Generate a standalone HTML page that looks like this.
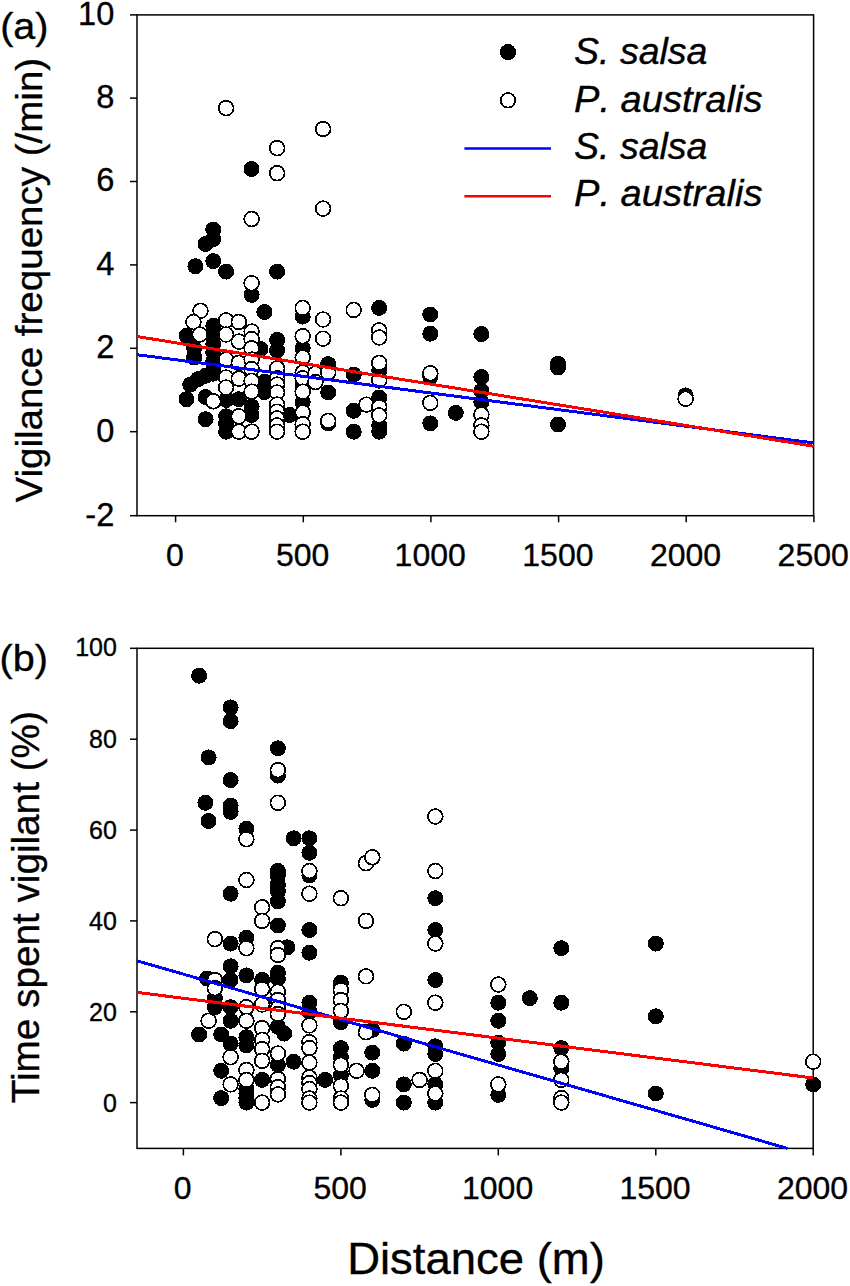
<!DOCTYPE html>
<html><head><meta charset="utf-8"><title>Figure</title>
<style>
html,body{margin:0;padding:0;background:#fff;}
svg{display:block;}
text{font-family:"Liberation Sans",sans-serif;fill:#000;stroke:#000;stroke-width:0.35px;}
.k{fill:#000;shape-rendering:crispEdges;}
.w{fill:#fff;stroke:#000;stroke-width:1.7;shape-rendering:crispEdges;}
.ax{stroke:#000;stroke-width:1.5;fill:none;}
</style></head><body>
<svg width="850" height="1286" viewBox="0 0 850 1286">
<rect x="0" y="0" width="850" height="1286" fill="#fff"/>
<g id="panelA">
<rect class="ax" x="137.0" y="14.9" width="676.6" height="500.80000000000007"/>
<circle class="k" cx="186.5" cy="335.8" r="8.0"/>
<circle class="k" cx="186.5" cy="399.2" r="8.0"/>
<circle class="k" cx="190.3" cy="384.6" r="8.0"/>
<circle class="k" cx="194.1" cy="348.3" r="8.0"/>
<circle class="k" cx="194.1" cy="357.5" r="8.0"/>
<circle class="k" cx="198.0" cy="379.2" r="8.0"/>
<circle class="k" cx="195.4" cy="266.2" r="8.0"/>
<circle class="k" cx="205.6" cy="244.0" r="8.0"/>
<circle class="k" cx="205.6" cy="375.8" r="8.0"/>
<circle class="k" cx="205.6" cy="397.1" r="8.0"/>
<circle class="k" cx="205.6" cy="419.2" r="8.0"/>
<circle class="k" cx="213.3" cy="229.5" r="8.0"/>
<circle class="k" cx="213.3" cy="239.0" r="8.0"/>
<circle class="k" cx="213.3" cy="261.1" r="8.0"/>
<circle class="k" cx="213.3" cy="325.8" r="8.0"/>
<circle class="k" cx="213.3" cy="335.8" r="8.0"/>
<circle class="k" cx="213.3" cy="344.1" r="8.0"/>
<circle class="k" cx="213.3" cy="352.5" r="8.0"/>
<circle class="k" cx="213.3" cy="360.8" r="8.0"/>
<circle class="k" cx="213.3" cy="369.1" r="8.0"/>
<circle class="k" cx="213.3" cy="373.7" r="8.0"/>
<circle class="k" cx="226.1" cy="271.6" r="8.0"/>
<circle class="k" cx="226.1" cy="400.0" r="8.0"/>
<circle class="k" cx="226.1" cy="416.3" r="8.0"/>
<circle class="k" cx="226.1" cy="423.4" r="8.0"/>
<circle class="k" cx="226.1" cy="431.7" r="8.0"/>
<circle class="k" cx="238.8" cy="399.2" r="8.0"/>
<circle class="k" cx="251.6" cy="169.0" r="8.0"/>
<circle class="k" cx="251.6" cy="294.9" r="8.0"/>
<circle class="k" cx="251.6" cy="406.7" r="8.0"/>
<circle class="k" cx="251.6" cy="415.0" r="8.0"/>
<circle class="k" cx="260.5" cy="349.1" r="8.0"/>
<circle class="k" cx="264.4" cy="312.0" r="8.0"/>
<circle class="k" cx="264.4" cy="381.7" r="8.0"/>
<circle class="k" cx="264.4" cy="392.1" r="8.0"/>
<circle class="k" cx="277.1" cy="271.6" r="8.0"/>
<circle class="k" cx="277.1" cy="340.0" r="8.0"/>
<circle class="k" cx="277.1" cy="350.4" r="8.0"/>
<circle class="k" cx="289.9" cy="415.0" r="8.0"/>
<circle class="k" cx="302.7" cy="316.6" r="8.0"/>
<circle class="k" cx="302.7" cy="348.3" r="8.0"/>
<circle class="k" cx="302.7" cy="384.6" r="8.0"/>
<circle class="k" cx="302.7" cy="402.1" r="8.0"/>
<circle class="k" cx="328.2" cy="364.1" r="8.0"/>
<circle class="k" cx="328.2" cy="392.5" r="8.0"/>
<circle class="k" cx="328.2" cy="423.4" r="8.0"/>
<circle class="k" cx="353.7" cy="374.6" r="8.0"/>
<circle class="k" cx="353.7" cy="410.8" r="8.0"/>
<circle class="k" cx="353.7" cy="431.7" r="8.0"/>
<circle class="k" cx="379.2" cy="307.9" r="8.0"/>
<circle class="k" cx="379.2" cy="370.4" r="8.0"/>
<circle class="k" cx="379.2" cy="397.5" r="8.0"/>
<circle class="k" cx="379.2" cy="425.4" r="8.0"/>
<circle class="k" cx="379.2" cy="431.7" r="8.0"/>
<circle class="k" cx="430.3" cy="314.5" r="8.0"/>
<circle class="k" cx="430.3" cy="333.7" r="8.0"/>
<circle class="k" cx="430.3" cy="376.7" r="8.0"/>
<circle class="k" cx="430.3" cy="423.4" r="8.0"/>
<circle class="k" cx="455.8" cy="412.9" r="8.0"/>
<circle class="k" cx="481.4" cy="334.1" r="8.0"/>
<circle class="k" cx="481.4" cy="377.1" r="8.0"/>
<circle class="k" cx="481.4" cy="390.8" r="8.0"/>
<circle class="k" cx="481.4" cy="402.1" r="8.0"/>
<circle class="k" cx="558.0" cy="363.7" r="8.0"/>
<circle class="k" cx="558.0" cy="367.5" r="8.0"/>
<circle class="k" cx="558.0" cy="424.6" r="8.0"/>
<circle class="k" cx="685.6" cy="395.4" r="8.0"/>
<circle class="w" cx="200.5" cy="310.8" r="7.4"/>
<circle class="w" cx="193.4" cy="322.0" r="7.4"/>
<circle class="w" cx="199.8" cy="334.5" r="7.4"/>
<circle class="w" cx="213.3" cy="401.3" r="7.4"/>
<circle class="w" cx="226.1" cy="108.1" r="7.4"/>
<circle class="w" cx="226.1" cy="320.4" r="7.4"/>
<circle class="w" cx="226.1" cy="334.5" r="7.4"/>
<circle class="w" cx="226.1" cy="359.6" r="7.4"/>
<circle class="w" cx="226.1" cy="377.5" r="7.4"/>
<circle class="w" cx="226.1" cy="387.5" r="7.4"/>
<circle class="w" cx="238.8" cy="322.0" r="7.4"/>
<circle class="w" cx="238.8" cy="341.6" r="7.4"/>
<circle class="w" cx="238.8" cy="362.9" r="7.4"/>
<circle class="w" cx="238.8" cy="378.7" r="7.4"/>
<circle class="w" cx="238.8" cy="416.3" r="7.4"/>
<circle class="w" cx="238.8" cy="431.7" r="7.4"/>
<circle class="w" cx="251.6" cy="219.0" r="7.4"/>
<circle class="w" cx="251.6" cy="283.2" r="7.4"/>
<circle class="w" cx="251.6" cy="331.6" r="7.4"/>
<circle class="w" cx="251.6" cy="339.1" r="7.4"/>
<circle class="w" cx="251.6" cy="348.3" r="7.4"/>
<circle class="w" cx="251.6" cy="359.6" r="7.4"/>
<circle class="w" cx="251.6" cy="369.1" r="7.4"/>
<circle class="w" cx="251.6" cy="380.8" r="7.4"/>
<circle class="w" cx="251.6" cy="391.7" r="7.4"/>
<circle class="w" cx="251.6" cy="431.7" r="7.4"/>
<circle class="w" cx="277.1" cy="148.1" r="7.4"/>
<circle class="w" cx="277.1" cy="173.2" r="7.4"/>
<circle class="w" cx="277.1" cy="368.3" r="7.4"/>
<circle class="w" cx="277.1" cy="378.3" r="7.4"/>
<circle class="w" cx="277.1" cy="384.6" r="7.4"/>
<circle class="w" cx="277.1" cy="392.5" r="7.4"/>
<circle class="w" cx="277.1" cy="404.6" r="7.4"/>
<circle class="w" cx="277.1" cy="411.7" r="7.4"/>
<circle class="w" cx="277.1" cy="418.4" r="7.4"/>
<circle class="w" cx="277.1" cy="425.4" r="7.4"/>
<circle class="w" cx="277.1" cy="431.7" r="7.4"/>
<circle class="w" cx="302.7" cy="307.9" r="7.4"/>
<circle class="w" cx="302.7" cy="336.2" r="7.4"/>
<circle class="w" cx="302.7" cy="357.5" r="7.4"/>
<circle class="w" cx="302.7" cy="372.5" r="7.4"/>
<circle class="w" cx="302.7" cy="378.3" r="7.4"/>
<circle class="w" cx="302.7" cy="391.7" r="7.4"/>
<circle class="w" cx="302.7" cy="412.5" r="7.4"/>
<circle class="w" cx="302.7" cy="424.2" r="7.4"/>
<circle class="w" cx="302.7" cy="431.7" r="7.4"/>
<circle class="w" cx="315.4" cy="373.7" r="7.4"/>
<circle class="w" cx="315.4" cy="382.1" r="7.4"/>
<circle class="w" cx="323.1" cy="129.0" r="7.4"/>
<circle class="w" cx="323.1" cy="208.6" r="7.4"/>
<circle class="w" cx="323.1" cy="319.5" r="7.4"/>
<circle class="w" cx="323.1" cy="338.7" r="7.4"/>
<circle class="w" cx="328.2" cy="372.5" r="7.4"/>
<circle class="w" cx="328.2" cy="420.9" r="7.4"/>
<circle class="w" cx="353.7" cy="309.9" r="7.4"/>
<circle class="w" cx="366.5" cy="404.6" r="7.4"/>
<circle class="w" cx="379.2" cy="330.4" r="7.4"/>
<circle class="w" cx="379.2" cy="337.5" r="7.4"/>
<circle class="w" cx="379.2" cy="362.9" r="7.4"/>
<circle class="w" cx="379.2" cy="380.4" r="7.4"/>
<circle class="w" cx="379.2" cy="407.1" r="7.4"/>
<circle class="w" cx="379.2" cy="415.4" r="7.4"/>
<circle class="w" cx="430.3" cy="373.3" r="7.4"/>
<circle class="w" cx="430.3" cy="402.9" r="7.4"/>
<circle class="w" cx="481.4" cy="414.6" r="7.4"/>
<circle class="w" cx="481.4" cy="425.4" r="7.4"/>
<circle class="w" cx="481.4" cy="431.7" r="7.4"/>
<circle class="w" cx="685.6" cy="398.8" r="7.4"/>
<line x1="137" y1="354.7" x2="813.6" y2="442.9" stroke="#0000ff" stroke-width="3" shape-rendering="crispEdges"/>
<line x1="137" y1="336.5" x2="813.6" y2="446.2" stroke="#ff0000" stroke-width="3" shape-rendering="crispEdges"/>
<line class="ax" x1="130" y1="14.9" x2="137" y2="14.9"/><text x="114.3" y="24.8" font-size="32.6" text-anchor="end">10</text>
<line class="ax" x1="130" y1="98.1" x2="137" y2="98.1"/><text x="114.3" y="108.0" font-size="32.6" text-anchor="end">8</text>
<line class="ax" x1="130" y1="181.5" x2="137" y2="181.5"/><text x="114.3" y="191.4" font-size="32.6" text-anchor="end">6</text>
<line class="ax" x1="130" y1="264.9" x2="137" y2="264.9"/><text x="114.3" y="274.8" font-size="32.6" text-anchor="end">4</text>
<line class="ax" x1="130" y1="348.3" x2="137" y2="348.3"/><text x="114.3" y="358.2" font-size="32.6" text-anchor="end">2</text>
<line class="ax" x1="130" y1="431.7" x2="137" y2="431.7"/><text x="114.3" y="441.6" font-size="32.6" text-anchor="end">0</text>
<line class="ax" x1="130" y1="515.7" x2="137" y2="515.7"/><text x="114.3" y="525.6" font-size="32.6" text-anchor="end">-2</text>
<line class="ax" x1="175.6" y1="515.7" x2="175.6" y2="522.3"/><text x="174.9" y="565.5" font-size="32" text-anchor="middle">0</text>
<line class="ax" x1="303.3" y1="515.7" x2="303.3" y2="522.3"/><text x="302.6" y="565.5" font-size="32" text-anchor="middle">500</text>
<line class="ax" x1="430.9" y1="515.7" x2="430.9" y2="522.3"/><text x="430.2" y="565.5" font-size="32" text-anchor="middle">1000</text>
<line class="ax" x1="558.6" y1="515.7" x2="558.6" y2="522.3"/><text x="557.9" y="565.5" font-size="32" text-anchor="middle">1500</text>
<line class="ax" x1="686.2" y1="515.7" x2="686.2" y2="522.3"/><text x="685.5" y="565.5" font-size="32" text-anchor="middle">2000</text>
<line class="ax" x1="813.9" y1="515.7" x2="813.9" y2="522.3"/><text x="813.2" y="565.5" font-size="32" text-anchor="middle">2500</text>
</g>
<g id="legend">
<circle class="k" cx="508" cy="52.1" r="8.1"/>
<circle class="w" cx="508" cy="100.3" r="7.3"/>
<line x1="464.4" y1="148.5" x2="551" y2="148.5" stroke="#0000ff" stroke-width="2.6"/>
<line x1="464.4" y1="196.2" x2="551" y2="196.2" stroke="#ff0000" stroke-width="2.6"/>
<text x="574" y="64.4" font-size="37" font-style="italic" style="font-kerning:none" textLength="133.5" lengthAdjust="spacingAndGlyphs">S. salsa</text>
<text x="574" y="111.6" font-size="37" font-style="italic" style="font-kerning:none" textLength="188.5" lengthAdjust="spacingAndGlyphs">P. australis</text>
<text x="574" y="158.8" font-size="37" font-style="italic" style="font-kerning:none" textLength="133.5" lengthAdjust="spacingAndGlyphs">S. salsa</text>
<text x="574" y="206.0" font-size="37" font-style="italic" style="font-kerning:none" textLength="188.5" lengthAdjust="spacingAndGlyphs">P. australis</text>
</g>
<text x="0.2" y="38.6" font-size="37.2" textLength="48.3" lengthAdjust="spacingAndGlyphs">(a)</text>
<text x="-0.4" y="671.4" font-size="37.4" textLength="48.4" lengthAdjust="spacingAndGlyphs">(b)</text>
<text transform="translate(41.9,502.6) rotate(-90)" font-size="36.7" textLength="444.8" lengthAdjust="spacingAndGlyphs">Vigilance frequency (/min)</text>
<text transform="translate(38.5,1103.2) rotate(-90)" font-size="38.6" textLength="392" lengthAdjust="spacingAndGlyphs">Time spent vigilant (%)</text>
<g id="panelB">
<rect class="ax" x="137.0" y="648.3" width="676.2" height="500.10000000000014"/>
<circle class="k" cx="199.1" cy="675.7" r="8.0"/>
<circle class="k" cx="199.1" cy="1034.5" r="8.0"/>
<circle class="k" cx="205.4" cy="802.8" r="8.0"/>
<circle class="k" cx="208.6" cy="757.4" r="8.0"/>
<circle class="k" cx="208.6" cy="821.0" r="8.0"/>
<circle class="k" cx="207.0" cy="978.6" r="8.0"/>
<circle class="k" cx="214.9" cy="998.1" r="8.0"/>
<circle class="k" cx="214.9" cy="1007.2" r="8.0"/>
<circle class="k" cx="221.2" cy="1034.5" r="8.0"/>
<circle class="k" cx="221.2" cy="1070.8" r="8.0"/>
<circle class="k" cx="221.2" cy="1098.1" r="8.0"/>
<circle class="k" cx="230.6" cy="707.4" r="8.0"/>
<circle class="k" cx="230.6" cy="721.1" r="8.0"/>
<circle class="k" cx="230.6" cy="780.1" r="8.0"/>
<circle class="k" cx="230.6" cy="805.6" r="8.0"/>
<circle class="k" cx="230.6" cy="811.9" r="8.0"/>
<circle class="k" cx="230.6" cy="893.7" r="8.0"/>
<circle class="k" cx="230.6" cy="943.6" r="8.0"/>
<circle class="k" cx="230.6" cy="966.3" r="8.0"/>
<circle class="k" cx="230.6" cy="980.0" r="8.0"/>
<circle class="k" cx="230.6" cy="1007.2" r="8.0"/>
<circle class="k" cx="230.6" cy="1020.8" r="8.0"/>
<circle class="k" cx="230.6" cy="1043.6" r="8.0"/>
<circle class="k" cx="246.4" cy="828.7" r="8.0"/>
<circle class="k" cx="246.4" cy="937.7" r="8.0"/>
<circle class="k" cx="246.4" cy="975.4" r="8.0"/>
<circle class="k" cx="246.4" cy="1037.2" r="8.0"/>
<circle class="k" cx="246.4" cy="1045.4" r="8.0"/>
<circle class="k" cx="246.4" cy="1089.0" r="8.0"/>
<circle class="k" cx="246.4" cy="1093.5" r="8.0"/>
<circle class="k" cx="246.4" cy="1098.1" r="8.0"/>
<circle class="k" cx="246.4" cy="1102.6" r="8.0"/>
<circle class="k" cx="262.1" cy="980.0" r="8.0"/>
<circle class="k" cx="262.1" cy="1079.9" r="8.0"/>
<circle class="k" cx="277.9" cy="748.3" r="8.0"/>
<circle class="k" cx="277.9" cy="775.6" r="8.0"/>
<circle class="k" cx="277.9" cy="871.0" r="8.0"/>
<circle class="k" cx="277.9" cy="875.5" r="8.0"/>
<circle class="k" cx="277.9" cy="884.6" r="8.0"/>
<circle class="k" cx="277.9" cy="891.4" r="8.0"/>
<circle class="k" cx="277.9" cy="901.4" r="8.0"/>
<circle class="k" cx="277.9" cy="925.5" r="8.0"/>
<circle class="k" cx="277.9" cy="972.7" r="8.0"/>
<circle class="k" cx="277.9" cy="978.6" r="8.0"/>
<circle class="k" cx="277.9" cy="1026.7" r="8.0"/>
<circle class="k" cx="277.9" cy="1064.9" r="8.0"/>
<circle class="k" cx="284.2" cy="1033.6" r="8.0"/>
<circle class="k" cx="287.3" cy="947.3" r="8.0"/>
<circle class="k" cx="293.6" cy="838.3" r="8.0"/>
<circle class="k" cx="293.6" cy="1061.7" r="8.0"/>
<circle class="k" cx="309.4" cy="838.3" r="8.0"/>
<circle class="k" cx="309.4" cy="852.8" r="8.0"/>
<circle class="k" cx="309.4" cy="875.5" r="8.0"/>
<circle class="k" cx="309.4" cy="930.0" r="8.0"/>
<circle class="k" cx="309.4" cy="952.7" r="8.0"/>
<circle class="k" cx="309.4" cy="1002.7" r="8.0"/>
<circle class="k" cx="309.4" cy="1011.8" r="8.0"/>
<circle class="k" cx="325.1" cy="1079.9" r="8.0"/>
<circle class="k" cx="340.9" cy="982.7" r="8.0"/>
<circle class="k" cx="340.9" cy="1022.2" r="8.0"/>
<circle class="k" cx="340.9" cy="1048.1" r="8.0"/>
<circle class="k" cx="340.9" cy="1057.2" r="8.0"/>
<circle class="k" cx="340.9" cy="1075.3" r="8.0"/>
<circle class="k" cx="372.3" cy="1029.9" r="8.0"/>
<circle class="k" cx="372.3" cy="1052.6" r="8.0"/>
<circle class="k" cx="372.3" cy="1070.8" r="8.0"/>
<circle class="k" cx="372.3" cy="1099.9" r="8.0"/>
<circle class="k" cx="403.8" cy="1043.6" r="8.0"/>
<circle class="k" cx="403.8" cy="1084.4" r="8.0"/>
<circle class="k" cx="403.8" cy="1102.6" r="8.0"/>
<circle class="k" cx="435.3" cy="898.2" r="8.0"/>
<circle class="k" cx="435.3" cy="930.0" r="8.0"/>
<circle class="k" cx="435.3" cy="980.0" r="8.0"/>
<circle class="k" cx="435.3" cy="1046.3" r="8.0"/>
<circle class="k" cx="435.3" cy="1054.0" r="8.0"/>
<circle class="k" cx="435.3" cy="1084.4" r="8.0"/>
<circle class="k" cx="435.3" cy="1102.6" r="8.0"/>
<circle class="k" cx="498.3" cy="1002.7" r="8.0"/>
<circle class="k" cx="498.3" cy="1020.8" r="8.0"/>
<circle class="k" cx="498.3" cy="1042.6" r="8.0"/>
<circle class="k" cx="498.3" cy="1054.0" r="8.0"/>
<circle class="k" cx="498.3" cy="1094.9" r="8.0"/>
<circle class="k" cx="529.8" cy="998.1" r="8.0"/>
<circle class="k" cx="561.3" cy="948.2" r="8.0"/>
<circle class="k" cx="561.3" cy="1002.7" r="8.0"/>
<circle class="k" cx="561.3" cy="1048.1" r="8.0"/>
<circle class="k" cx="561.3" cy="1068.5" r="8.0"/>
<circle class="k" cx="655.8" cy="943.6" r="8.0"/>
<circle class="k" cx="655.8" cy="1016.3" r="8.0"/>
<circle class="k" cx="655.8" cy="1093.5" r="8.0"/>
<circle class="k" cx="813.2" cy="1084.4" r="8.0"/>
<circle class="w" cx="214.9" cy="939.1" r="7.4"/>
<circle class="w" cx="214.9" cy="980.0" r="7.4"/>
<circle class="w" cx="214.9" cy="988.1" r="7.4"/>
<circle class="w" cx="208.6" cy="1020.8" r="7.4"/>
<circle class="w" cx="230.6" cy="1057.2" r="7.4"/>
<circle class="w" cx="230.6" cy="1084.4" r="7.4"/>
<circle class="w" cx="246.4" cy="839.2" r="7.4"/>
<circle class="w" cx="246.4" cy="880.0" r="7.4"/>
<circle class="w" cx="246.4" cy="948.2" r="7.4"/>
<circle class="w" cx="246.4" cy="1007.2" r="7.4"/>
<circle class="w" cx="246.4" cy="1020.8" r="7.4"/>
<circle class="w" cx="246.4" cy="1069.9" r="7.4"/>
<circle class="w" cx="246.4" cy="1079.9" r="7.4"/>
<circle class="w" cx="262.1" cy="907.3" r="7.4"/>
<circle class="w" cx="262.1" cy="920.9" r="7.4"/>
<circle class="w" cx="262.1" cy="989.0" r="7.4"/>
<circle class="w" cx="262.1" cy="1004.5" r="7.4"/>
<circle class="w" cx="262.1" cy="1028.1" r="7.4"/>
<circle class="w" cx="262.1" cy="1039.9" r="7.4"/>
<circle class="w" cx="262.1" cy="1049.0" r="7.4"/>
<circle class="w" cx="262.1" cy="1060.8" r="7.4"/>
<circle class="w" cx="262.1" cy="1102.6" r="7.4"/>
<circle class="w" cx="277.9" cy="770.1" r="7.4"/>
<circle class="w" cx="277.9" cy="802.8" r="7.4"/>
<circle class="w" cx="277.9" cy="948.2" r="7.4"/>
<circle class="w" cx="277.9" cy="955.0" r="7.4"/>
<circle class="w" cx="277.9" cy="991.8" r="7.4"/>
<circle class="w" cx="277.9" cy="1000.0" r="7.4"/>
<circle class="w" cx="277.9" cy="1008.1" r="7.4"/>
<circle class="w" cx="277.9" cy="1014.0" r="7.4"/>
<circle class="w" cx="277.9" cy="1053.5" r="7.4"/>
<circle class="w" cx="277.9" cy="1079.0" r="7.4"/>
<circle class="w" cx="277.9" cy="1087.2" r="7.4"/>
<circle class="w" cx="277.9" cy="1094.4" r="7.4"/>
<circle class="w" cx="309.4" cy="871.0" r="7.4"/>
<circle class="w" cx="309.4" cy="893.7" r="7.4"/>
<circle class="w" cx="309.4" cy="1025.4" r="7.4"/>
<circle class="w" cx="309.4" cy="1042.2" r="7.4"/>
<circle class="w" cx="309.4" cy="1048.1" r="7.4"/>
<circle class="w" cx="309.4" cy="1062.6" r="7.4"/>
<circle class="w" cx="309.4" cy="1077.6" r="7.4"/>
<circle class="w" cx="309.4" cy="1083.1" r="7.4"/>
<circle class="w" cx="309.4" cy="1089.0" r="7.4"/>
<circle class="w" cx="309.4" cy="1098.5" r="7.4"/>
<circle class="w" cx="309.4" cy="1102.6" r="7.4"/>
<circle class="w" cx="340.9" cy="898.2" r="7.4"/>
<circle class="w" cx="340.9" cy="990.0" r="7.4"/>
<circle class="w" cx="340.9" cy="1000.0" r="7.4"/>
<circle class="w" cx="340.9" cy="1010.9" r="7.4"/>
<circle class="w" cx="340.9" cy="1064.9" r="7.4"/>
<circle class="w" cx="340.9" cy="1085.8" r="7.4"/>
<circle class="w" cx="340.9" cy="1098.5" r="7.4"/>
<circle class="w" cx="340.9" cy="1102.6" r="7.4"/>
<circle class="w" cx="356.6" cy="1070.8" r="7.4"/>
<circle class="w" cx="366.0" cy="863.2" r="7.4"/>
<circle class="w" cx="366.0" cy="920.9" r="7.4"/>
<circle class="w" cx="366.0" cy="976.3" r="7.4"/>
<circle class="w" cx="366.0" cy="1032.2" r="7.4"/>
<circle class="w" cx="372.3" cy="857.3" r="7.4"/>
<circle class="w" cx="372.3" cy="1094.9" r="7.4"/>
<circle class="w" cx="403.8" cy="1011.8" r="7.4"/>
<circle class="w" cx="419.6" cy="1079.9" r="7.4"/>
<circle class="w" cx="435.3" cy="816.5" r="7.4"/>
<circle class="w" cx="435.3" cy="871.0" r="7.4"/>
<circle class="w" cx="435.3" cy="943.6" r="7.4"/>
<circle class="w" cx="435.3" cy="1002.7" r="7.4"/>
<circle class="w" cx="435.3" cy="1070.8" r="7.4"/>
<circle class="w" cx="435.3" cy="1093.5" r="7.4"/>
<circle class="w" cx="498.3" cy="984.5" r="7.4"/>
<circle class="w" cx="498.3" cy="1084.4" r="7.4"/>
<circle class="w" cx="561.3" cy="1061.7" r="7.4"/>
<circle class="w" cx="561.3" cy="1079.9" r="7.4"/>
<circle class="w" cx="561.3" cy="1098.1" r="7.4"/>
<circle class="w" cx="561.3" cy="1102.6" r="7.4"/>
<circle class="w" cx="813.2" cy="1061.7" r="7.4"/>
<line x1="137" y1="960.8" x2="787.4" y2="1148.4" stroke="#0000ff" stroke-width="3" shape-rendering="crispEdges"/>
<line x1="137" y1="992.4" x2="813.2" y2="1078" stroke="#ff0000" stroke-width="3" shape-rendering="crispEdges"/>
<line class="ax" x1="130" y1="648.3" x2="137" y2="648.3"/><text x="116.9" y="655.8" font-size="25" text-anchor="end">100</text>
<line class="ax" x1="130" y1="739.2" x2="137" y2="739.2"/><text x="116.9" y="748.1" font-size="25" text-anchor="end">80</text>
<line class="ax" x1="130" y1="830.1" x2="137" y2="830.1"/><text x="116.9" y="839.0" font-size="25" text-anchor="end">60</text>
<line class="ax" x1="130" y1="920.9" x2="137" y2="920.9"/><text x="116.9" y="929.8" font-size="25" text-anchor="end">40</text>
<line class="ax" x1="130" y1="1011.8" x2="137" y2="1011.8"/><text x="116.9" y="1020.7" font-size="25" text-anchor="end">20</text>
<line class="ax" x1="130" y1="1102.6" x2="137" y2="1102.6"/><text x="116.9" y="1111.5" font-size="25" text-anchor="end">0</text>
<line class="ax" x1="183.4" y1="1148.4" x2="183.4" y2="1155.4"/><text x="182.7" y="1198.8" font-size="32" text-anchor="middle">0</text>
<line class="ax" x1="340.9" y1="1148.4" x2="340.9" y2="1155.4"/><text x="340.2" y="1198.8" font-size="32" text-anchor="middle">500</text>
<line class="ax" x1="498.3" y1="1148.4" x2="498.3" y2="1155.4"/><text x="497.6" y="1198.8" font-size="32" text-anchor="middle">1000</text>
<line class="ax" x1="655.8" y1="1148.4" x2="655.8" y2="1155.4"/><text x="655.0" y="1198.8" font-size="32" text-anchor="middle">1500</text>
<line class="ax" x1="813.2" y1="1148.4" x2="813.2" y2="1155.4"/><text x="812.5" y="1198.8" font-size="32" text-anchor="middle">2000</text>
</g>
<text x="476" y="1274" font-size="43.8" text-anchor="middle" textLength="257.6" lengthAdjust="spacingAndGlyphs">Distance (m)</text>
</svg>
</body></html>
